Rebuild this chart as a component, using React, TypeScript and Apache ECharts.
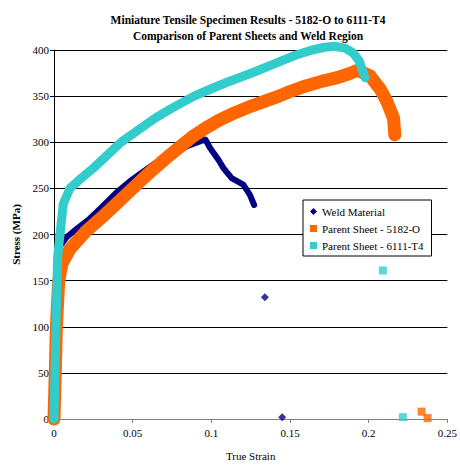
import React, { useEffect, useRef } from "react";
import * as echarts from "echarts";

// ---- Data ----
const weldStrain = [0, 0.0008, 0.0015, 0.0025, 0.004, 0.008, 0.015, 0.022, 0.03, 0.04, 0.05, 0.064, 0.075, 0.085, 0.0962, 0.0993, 0.1045, 0.1077, 0.1129, 0.1203, 0.1245, 0.1272];
const weldStress = [0, 60, 120, 170, 188, 197, 207, 216, 229, 246, 260, 277, 288, 296, 303, 293.5, 281, 272, 261, 254, 243, 232];
const weldOutStrain = [0.134, 0.145];
const weldOutStress = [132, 2];

const o5182Strain = [0, 0.0008, 0.0015, 0.003, 0.005, 0.01, 0.02, 0.03, 0.04, 0.05, 0.06, 0.07, 0.08, 0.088, 0.096, 0.105, 0.115, 0.125, 0.135, 0.143, 0.15, 0.16, 0.17, 0.18, 0.187, 0.193, 0.2009, 0.2053, 0.2072, 0.2116, 0.2158, 0.2166];
const o5182Stress = [0, 50, 100, 150, 168, 184, 203, 218, 234, 250, 266, 281, 295, 306, 315, 324, 332, 339, 345, 350, 355, 361, 366, 370, 374, 378, 372, 362, 358, 344, 326, 308];
const o5182OutStrain = [0.2336, 0.2374];
const o5182OutStress = [8, 1];

const t6111Strain = [0, 0.001, 0.0015, 0.0023, 0.0038, 0.0059, 0.0101, 0.0174, 0.025, 0.032, 0.0426, 0.055, 0.065, 0.075, 0.089, 0.1, 0.11, 0.121, 0.13, 0.14, 0.153, 0.164, 0.172, 0.178, 0.185, 0.19, 0.194, 0.196, 0.1977];
const t6111Stress = [0, 80, 120, 175, 200, 233, 250, 261, 272, 283, 300, 315, 327, 337, 350, 358, 365, 372, 378, 385, 394, 400, 403, 404, 402, 397, 388, 378, 370];
const t6111OutStrain = [0.209, 0.2217];
const t6111OutStress = [161, 2];

const xTicks = [0, 0.05, 0.1, 0.15, 0.2, 0.25];
const yTicks = [0, 50, 100, 150, 200, 250, 300, 350, 400];

const NAMES = ["Weld Material", "Parent Sheet - 5182-O", "Parent Sheet - 6111-T4"];
const COLORS = ["#000080", "#FF6600", "#33CCCC"];

const zip = (a: number[], b: number[]) => a.map((v, i) => [v, b[i]]);

const FONT = "Liberation Serif";

export default function App() {
  const ref = useRef<HTMLDivElement>(null);
  useEffect(() => {
    if (!ref.current) return;
    const chart = echarts.init(ref.current, undefined, { renderer: "svg" });
    const lineSeries = (i: number, data: number[][], width: number) => ({
      type: "line",
      name: NAMES[i],
      data,
      symbol: "none",
      smooth: false,
      clip: false,
      color: COLORS[i],
      itemStyle: { color: COLORS[i] },
      lineStyle: { color: COLORS[i], width, cap: "round", join: "round" },
      z: 2 + i,
    });
    const outSeries = (i: number, data: number[][], symbol: string, size: number) => ({
      type: "scatter",
      name: NAMES[i],
      data,
      symbol,
      symbolSize: size,
      color: COLORS[i],
      itemStyle: { color: COLORS[i] },
      z: 2 + i,
    });
    chart.setOption({
      animation: false,
      backgroundColor: "#ffffff",
      title: {
        text: "Miniature Tensile Specimen Results - 5182-O to 6111-T4\nComparison of Parent Sheets and Weld Region",
        left: 243,
        top: 7,
        textAlign: "center",
        textStyle: { fontFamily: FONT, fontSize: 11.5, fontWeight: "bold", color: "#000", lineHeight: 16 },
      },
      legend: {
        orient: "vertical",
        left: 303,
        top: 200,
        width: 130,
        padding: [5, 8, 4, 7],
        itemGap: 4,
        itemWidth: 7,
        itemHeight: 7,
        backgroundColor: "#fff",
        borderColor: "#000",
        borderWidth: 1,
        borderRadius: 0,
        textStyle: { fontFamily: FONT, fontSize: 11, color: "#000", lineHeight: 13 },
        data: [
          { name: NAMES[0], icon: "diamond" },
          { name: NAMES[1], icon: "rect" },
          { name: NAMES[2], icon: "rect" },
        ],
      },
      grid: { left: 54, right: 9, top: 50, bottom: 43, containLabel: false },
      xAxis: {
        type: "value",
        min: xTicks[0],
        max: xTicks[xTicks.length - 1],
        interval: 0.05,
        name: "True Strain",
        nameLocation: "middle",
        nameGap: 31,
        nameTextStyle: { fontFamily: FONT, fontSize: 11, color: "#000" },
        axisLine: { show: true, lineStyle: { color: "#808080", width: 1 } },
        axisTick: { show: true, length: 4, lineStyle: { color: "#808080" } },
        axisLabel: { fontFamily: FONT, fontSize: 11, color: "#000", margin: 8 },
        splitLine: { show: false },
      },
      yAxis: {
        type: "value",
        min: yTicks[0],
        max: yTicks[yTicks.length - 1],
        interval: 50,
        name: "Stress (MPa)",
        nameLocation: "middle",
        nameGap: 28,
        nameTextStyle: { fontFamily: FONT, fontSize: 11, fontWeight: "bold", color: "#000" },
        axisLine: { show: true, lineStyle: { color: "#000", width: 1 } },
        axisTick: { show: true, length: 4, lineStyle: { color: "#000" } },
        axisLabel: { fontFamily: FONT, fontSize: 11, color: "#000", margin: 5 },
        splitLine: { show: true, lineStyle: { color: "#000", width: 1 } },
      },
      series: [
        lineSeries(0, zip(weldStrain, weldStress), 6),
        outSeries(0, zip(weldOutStrain, weldOutStress), "diamond", 8),
        lineSeries(1, zip(o5182Strain, o5182Stress), 13),
        outSeries(1, zip(o5182OutStrain, o5182OutStress), "rect", 8),
        lineSeries(2, zip(t6111Strain, t6111Stress), 9),
        outSeries(2, zip(t6111OutStrain, t6111OutStress), "rect", 8),
      ],
    });
    return () => chart.dispose();
  }, []);
  return <div ref={ref} style={{ position: "absolute", left: 0, top: 0, width: 460, height: 466 }} />;
}
